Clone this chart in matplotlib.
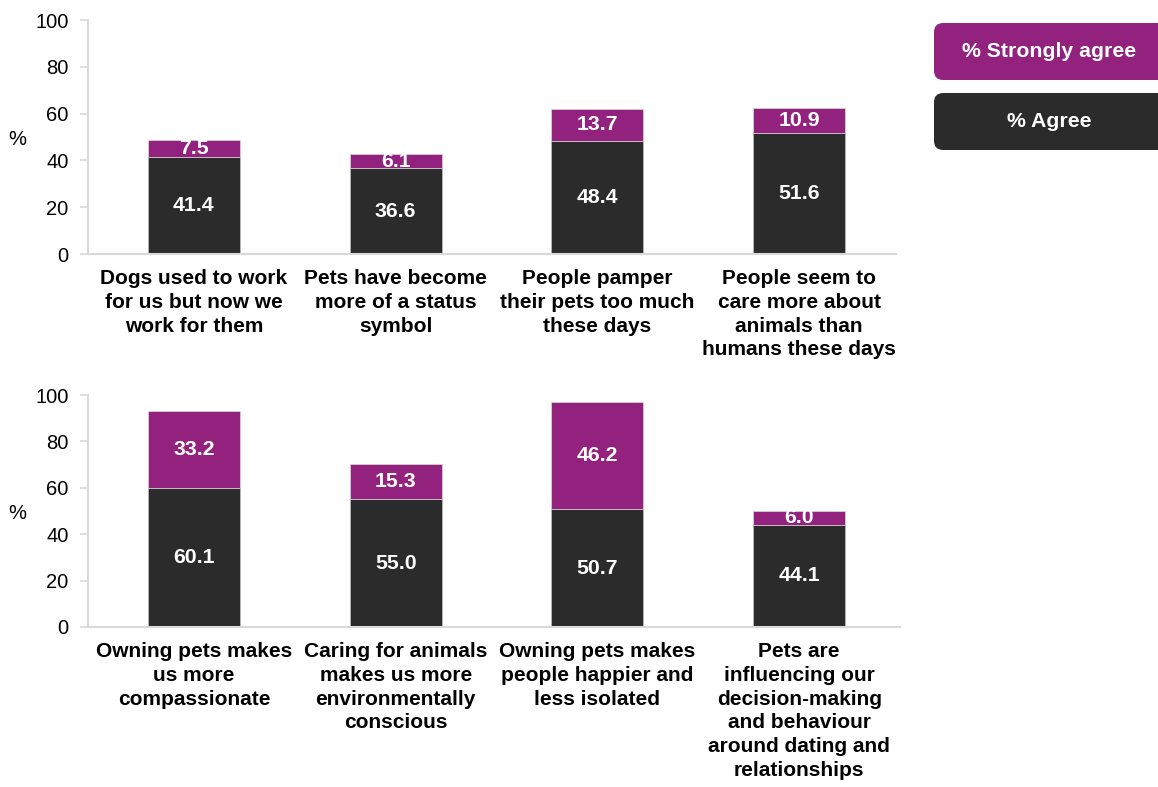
import matplotlib
matplotlib.use("Agg")
import matplotlib.pyplot as plt
from matplotlib.patches import FancyBboxPatch

plt.rcParams['font.family'] = ['Liberation Sans', 'DejaVu Sans']

cats_top = ["Dogs used to work\nfor us but now we\nwork for them",
            "Pets have become\nmore of a status\nsymbol",
            "People pamper\ntheir pets too much\nthese days",
            "People seem to\ncare more about\nanimals than\nhumans these days"]
agree_top = [41.4, 36.6, 48.4, 51.6]
strong_top = [7.5, 6.1, 13.7, 10.9]

cats_bot = ["Owning pets makes\nus more\ncompassionate",
            "Caring for animals\nmakes us more\nenvironmentally\nconscious",
            "Owning pets makes\npeople happier and\nless isolated",
            "Pets are\ninfluencing our\ndecision-making\nand behaviour\naround dating and\nrelationships"]
agree_bot = [60.1, 55.0, 50.7, 44.1]
strong_bot = [33.2, 15.3, 46.2, 6.0]

yticks = [0, 20, 40, 60, 80, 100]
legend_labels = ["% Strongly agree", "% Agree"]

PURPLE = "#93227F"
DARK = "#2B2B2B"
SPINE = "#D9D9D9"

W, H = 1158, 787
fig = plt.figure(figsize=(W / 100, H / 100), dpi=100)


def px_axes(x0, x1, ytop, ybot):
    return fig.add_axes([x0 / W, 1 - ybot / H, (x1 - x0) / W, (ybot - ytop) / H])


def draw(ax, cats, agree, strong, xmax):
    x = list(range(len(cats)))
    ax.bar(x, agree, width=0.456, color=DARK, edgecolor="#BFBFBF", linewidth=0.5)
    ax.bar(x, strong, bottom=agree, width=0.456, color=PURPLE, edgecolor="#D9D9D9", linewidth=0.5)
    for xi, a, s in zip(x, agree, strong):
        ax.text(xi, a / 2, f"{a:.1f}", ha="center", va="center", color="white",
                fontsize=15.3, fontweight="bold")
        ax.text(xi, a + s / 2, f"{s:.1f}", ha="center", va="center", color="white",
                fontsize=15.3, fontweight="bold")
    ax.set_xlim(-0.525, xmax)
    ax.set_ylim(0, 100)
    ax.set_yticks(yticks)
    ax.set_yticklabels([str(t) for t in yticks], fontsize=14.5)
    ax.set_xticks(x)
    ax.set_xticklabels(cats, fontsize=15, fontweight="bold", va="top", linespacing=1.31)
    ax.tick_params(axis="x", length=0, pad=11)
    ax.tick_params(axis="y", length=6, color=SPINE, width=1.2, pad=8)
    for s in ["top", "right"]:
        ax.spines[s].set_visible(False)
    for s in ["left", "bottom"]:
        ax.spines[s].set_color(SPINE)
        ax.spines[s].set_linewidth(1.5)
    ax.set_ylabel("%", rotation=0, fontsize=14.5, va="center")


ax1 = px_axes(88, 896, 20, 254)
draw(ax1, cats_top, agree_top, strong_top, 3.48)
ax1.yaxis.set_label_coords(-0.087, 0.49)
ax2 = px_axes(88, 900, 395, 627)
draw(ax2, cats_bot, agree_bot, strong_bot, 3.5)
ax2.yaxis.set_label_coords(-0.087, 0.49)

# legend boxes
for (y0, y1), lab, col in zip([(23, 80), (93, 150)], legend_labels, [PURPLE, DARK]):
    x0, x1 = 934, 1175
    box = FancyBboxPatch((x0 / W, 1 - y1 / H), (x1 - x0) / W, (y1 - y0) / H,
                         boxstyle="round,pad=0,rounding_size=0.008",
                         transform=fig.transFigure, facecolor=col, edgecolor="none",
                         mutation_aspect=W / H)
    fig.add_artist(box)
    fig.text((934 + 1164) / 2 / W, 1 - (y0 + y1) / 2 / H, lab, ha="center", va="center",
             color="white", fontsize=15.3, fontweight="bold")

fig.savefig("out.png", dpi=100)
